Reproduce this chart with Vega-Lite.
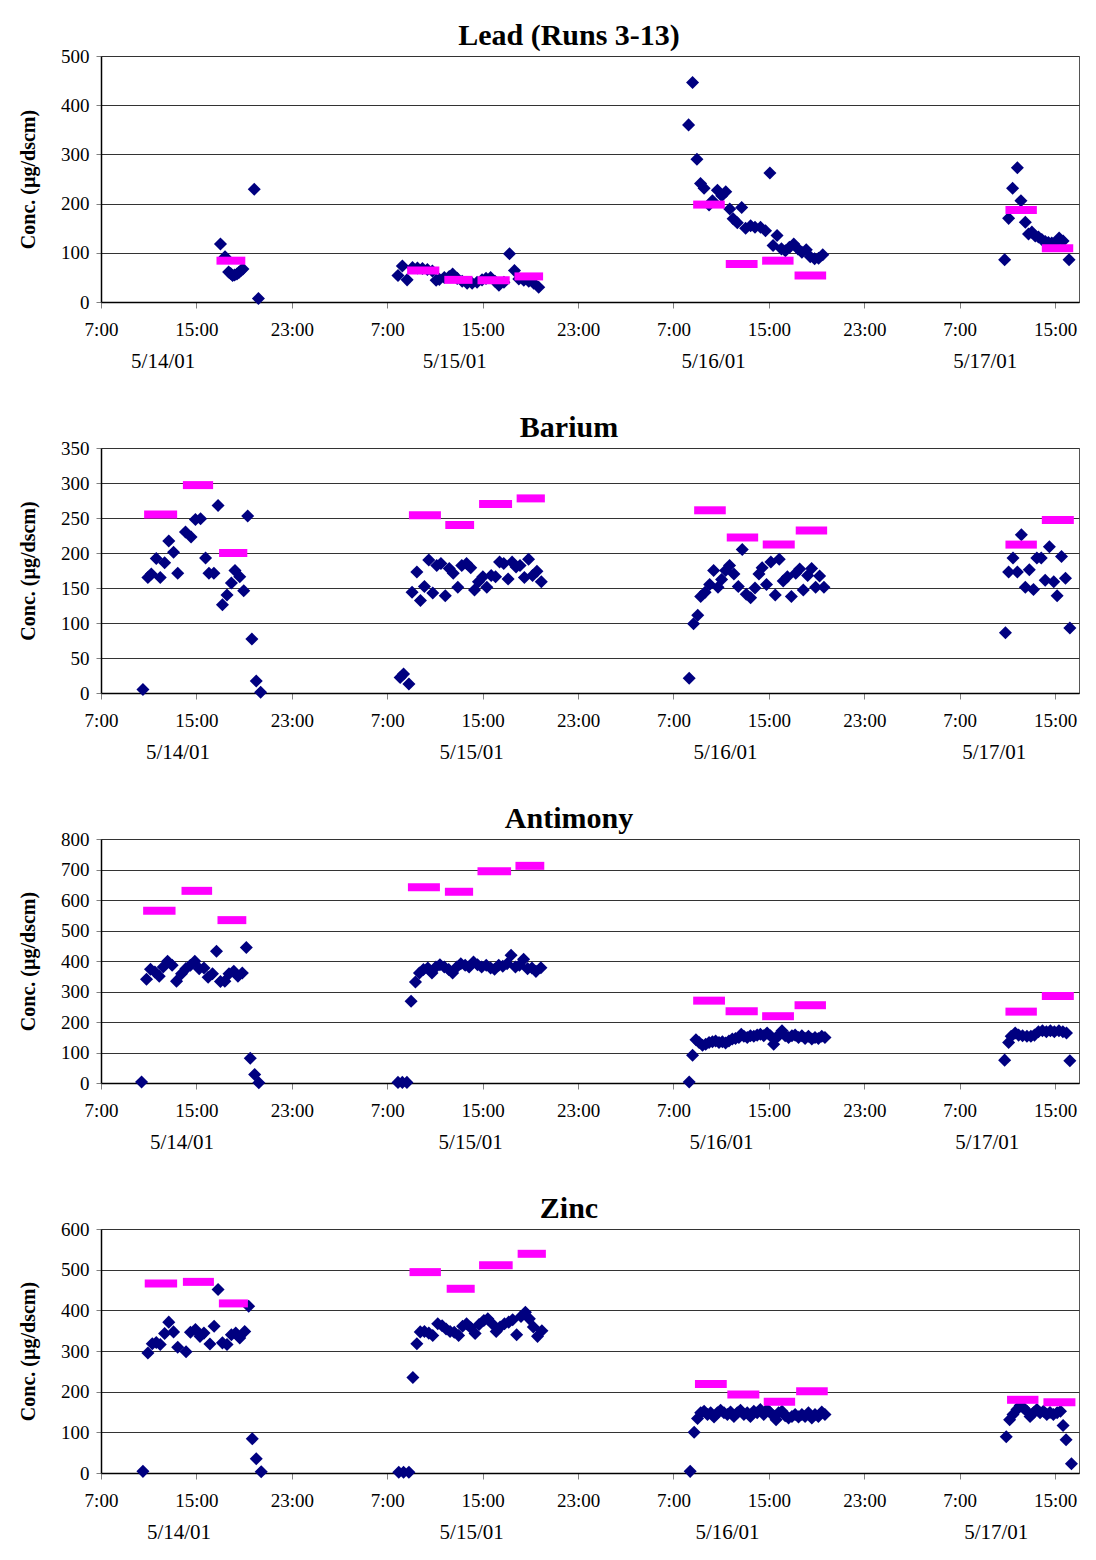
{
  "$schema": "https://vega.github.io/schema/vega-lite/v6.json",
  "background": "white",
  "padding": {"left": 18, "top": 20, "right": 5, "bottom": 5},
  "spacing": 40,
  "config": {
    "font": "Liberation Serif",
    "view": {"stroke": "#555", "strokeWidth": 1},
    "axis": {"labelFont": "Liberation Serif", "titleFont": "Liberation Serif", "labelColor": "black", "titleColor": "black", "domainColor": "black", "domainWidth": 1.5, "tickColor": "#808080", "gridColor": "#333", "gridWidth": 1},
    "title": {"font": "Liberation Serif", "fontSize": 30, "fontWeight": "bold", "color": "black", "anchor": "middle", "dx": -21, "offset": -4}
  },
  "datasets": {
    "pts": [
      {"metal":"Lead","time":"2001-05-14T17:01","conc":118},{"metal":"Lead","time":"2001-05-14T17:24","conc":92},{"metal":"Lead","time":"2001-05-14T17:42","conc":61},{"metal":"Lead","time":"2001-05-14T17:52","conc":58},{"metal":"Lead","time":"2001-05-14T18:02","conc":54},{"metal":"Lead","time":"2001-05-14T18:12","conc":55},{"metal":"Lead","time":"2001-05-14T18:24","conc":57},{"metal":"Lead","time":"2001-05-14T18:34","conc":60},{"metal":"Lead","time":"2001-05-14T18:44","conc":64},{"metal":"Lead","time":"2001-05-14T18:54","conc":67},{"metal":"Lead","time":"2001-05-14T19:51","conc":229},{"metal":"Lead","time":"2001-05-14T20:12","conc":7},
      {"metal":"Lead","time":"2001-05-15T07:54","conc":54},{"metal":"Lead","time":"2001-05-15T08:16","conc":73},{"metal":"Lead","time":"2001-05-15T08:40","conc":45},{"metal":"Lead","time":"2001-05-15T09:07","conc":70},{"metal":"Lead","time":"2001-05-15T09:32","conc":69},{"metal":"Lead","time":"2001-05-15T09:57","conc":68},{"metal":"Lead","time":"2001-05-15T10:22","conc":66},{"metal":"Lead","time":"2001-05-15T10:47","conc":63},{"metal":"Lead","time":"2001-05-15T11:06","conc":44},{"metal":"Lead","time":"2001-05-15T11:22","conc":46},{"metal":"Lead","time":"2001-05-15T11:47","conc":50},{"metal":"Lead","time":"2001-05-15T12:12","conc":52},{"metal":"Lead","time":"2001-05-15T12:29","conc":57},{"metal":"Lead","time":"2001-05-15T12:52","conc":48},{"metal":"Lead","time":"2001-05-15T13:17","conc":42},{"metal":"Lead","time":"2001-05-15T13:42","conc":38},{"metal":"Lead","time":"2001-05-15T14:07","conc":38},{"metal":"Lead","time":"2001-05-15T14:32","conc":40},{"metal":"Lead","time":"2001-05-15T14:57","conc":45},{"metal":"Lead","time":"2001-05-15T15:17","conc":48},{"metal":"Lead","time":"2001-05-15T15:40","conc":50},{"metal":"Lead","time":"2001-05-15T16:02","conc":42},{"metal":"Lead","time":"2001-05-15T16:22","conc":34},{"metal":"Lead","time":"2001-05-15T16:47","conc":40},{"metal":"Lead","time":"2001-05-15T17:15","conc":98},{"metal":"Lead","time":"2001-05-15T17:40","conc":64},{"metal":"Lead","time":"2001-05-15T18:02","conc":47},{"metal":"Lead","time":"2001-05-15T18:27","conc":44},{"metal":"Lead","time":"2001-05-15T18:52","conc":42},{"metal":"Lead","time":"2001-05-15T19:17","conc":38},{"metal":"Lead","time":"2001-05-15T19:42","conc":30},
      {"metal":"Lead","time":"2001-05-16T08:16","conc":360},{"metal":"Lead","time":"2001-05-16T08:36","conc":446},{"metal":"Lead","time":"2001-05-16T08:58","conc":290},{"metal":"Lead","time":"2001-05-16T09:16","conc":241},{"metal":"Lead","time":"2001-05-16T09:34","conc":231},{"metal":"Lead","time":"2001-05-16T09:59","conc":197},{"metal":"Lead","time":"2001-05-16T10:16","conc":206},{"metal":"Lead","time":"2001-05-16T10:41","conc":227},{"metal":"Lead","time":"2001-05-16T11:03","conc":216},{"metal":"Lead","time":"2001-05-16T11:23","conc":224},{"metal":"Lead","time":"2001-05-16T11:43","conc":189},{"metal":"Lead","time":"2001-05-16T12:00","conc":169},{"metal":"Lead","time":"2001-05-16T12:21","conc":161},{"metal":"Lead","time":"2001-05-16T12:43","conc":192},{"metal":"Lead","time":"2001-05-16T13:03","conc":150},{"metal":"Lead","time":"2001-05-16T13:28","conc":155},{"metal":"Lead","time":"2001-05-16T13:50","conc":152},{"metal":"Lead","time":"2001-05-16T14:18","conc":152},{"metal":"Lead","time":"2001-05-16T14:43","conc":145},{"metal":"Lead","time":"2001-05-16T15:05","conc":262},{"metal":"Lead","time":"2001-05-16T15:21","conc":115},{"metal":"Lead","time":"2001-05-16T15:41","conc":135},{"metal":"Lead","time":"2001-05-16T16:03","conc":108},{"metal":"Lead","time":"2001-05-16T16:23","conc":104},{"metal":"Lead","time":"2001-05-16T16:43","conc":111},{"metal":"Lead","time":"2001-05-16T17:05","conc":118},{"metal":"Lead","time":"2001-05-16T17:26","conc":108},{"metal":"Lead","time":"2001-05-16T17:46","conc":101},{"metal":"Lead","time":"2001-05-16T18:08","conc":106},{"metal":"Lead","time":"2001-05-16T18:28","conc":92},{"metal":"Lead","time":"2001-05-16T18:50","conc":88},{"metal":"Lead","time":"2001-05-16T19:10","conc":89},{"metal":"Lead","time":"2001-05-16T19:31","conc":96},
      {"metal":"Lead","time":"2001-05-17T10:46","conc":86},{"metal":"Lead","time":"2001-05-17T11:06","conc":170},{"metal":"Lead","time":"2001-05-17T11:26","conc":231},{"metal":"Lead","time":"2001-05-17T11:50","conc":273},{"metal":"Lead","time":"2001-05-17T12:08","conc":206},{"metal":"Lead","time":"2001-05-17T12:30","conc":162},{"metal":"Lead","time":"2001-05-17T12:46","conc":138},{"metal":"Lead","time":"2001-05-17T13:03","conc":142},{"metal":"Lead","time":"2001-05-17T13:20","conc":134},{"metal":"Lead","time":"2001-05-17T13:36","conc":132},{"metal":"Lead","time":"2001-05-17T13:53","conc":127},{"metal":"Lead","time":"2001-05-17T14:10","conc":123},{"metal":"Lead","time":"2001-05-17T14:26","conc":121},{"metal":"Lead","time":"2001-05-17T14:43","conc":120},{"metal":"Lead","time":"2001-05-17T15:00","conc":120},{"metal":"Lead","time":"2001-05-17T15:20","conc":130},{"metal":"Lead","time":"2001-05-17T15:40","conc":124},{"metal":"Lead","time":"2001-05-17T16:10","conc":86},

      {"metal":"Barium","time":"2001-05-14T10:31","conc":5},{"metal":"Barium","time":"2001-05-14T10:56","conc":165},{"metal":"Barium","time":"2001-05-14T11:13","conc":170},{"metal":"Barium","time":"2001-05-14T11:38","conc":192},{"metal":"Barium","time":"2001-05-14T11:58","conc":165},{"metal":"Barium","time":"2001-05-14T12:20","conc":186},{"metal":"Barium","time":"2001-05-14T12:41","conc":217},{"metal":"Barium","time":"2001-05-14T13:05","conc":201},{"metal":"Barium","time":"2001-05-14T13:26","conc":171},{"metal":"Barium","time":"2001-05-14T14:05","conc":230},{"metal":"Barium","time":"2001-05-14T14:33","conc":223},{"metal":"Barium","time":"2001-05-14T14:55","conc":248},{"metal":"Barium","time":"2001-05-14T15:21","conc":249},{"metal":"Barium","time":"2001-05-14T15:46","conc":193},{"metal":"Barium","time":"2001-05-14T16:03","conc":171},{"metal":"Barium","time":"2001-05-14T16:28","conc":171},{"metal":"Barium","time":"2001-05-14T16:49","conc":268},{"metal":"Barium","time":"2001-05-14T17:11","conc":126},{"metal":"Barium","time":"2001-05-14T17:34","conc":140},{"metal":"Barium","time":"2001-05-14T17:56","conc":157},{"metal":"Barium","time":"2001-05-14T18:14","conc":175},{"metal":"Barium","time":"2001-05-14T18:38","conc":166},{"metal":"Barium","time":"2001-05-14T18:58","conc":146},{"metal":"Barium","time":"2001-05-14T19:18","conc":253},{"metal":"Barium","time":"2001-05-14T19:39","conc":77},{"metal":"Barium","time":"2001-05-14T20:01","conc":17},{"metal":"Barium","time":"2001-05-14T20:23","conc":1},
      {"metal":"Barium","time":"2001-05-15T08:05","conc":22},{"metal":"Barium","time":"2001-05-15T08:22","conc":27},{"metal":"Barium","time":"2001-05-15T08:49","conc":13},{"metal":"Barium","time":"2001-05-15T09:05","conc":144},{"metal":"Barium","time":"2001-05-15T09:29","conc":173},{"metal":"Barium","time":"2001-05-15T09:47","conc":132},{"metal":"Barium","time":"2001-05-15T10:07","conc":152},{"metal":"Barium","time":"2001-05-15T10:29","conc":190},{"metal":"Barium","time":"2001-05-15T10:49","conc":143},{"metal":"Barium","time":"2001-05-15T11:09","conc":182},{"metal":"Barium","time":"2001-05-15T11:30","conc":185},{"metal":"Barium","time":"2001-05-15T11:52","conc":139},{"metal":"Barium","time":"2001-05-15T12:12","conc":178},{"metal":"Barium","time":"2001-05-15T12:32","conc":171},{"metal":"Barium","time":"2001-05-15T12:55","conc":151},{"metal":"Barium","time":"2001-05-15T13:15","conc":182},{"metal":"Barium","time":"2001-05-15T13:39","conc":185},{"metal":"Barium","time":"2001-05-15T14:00","conc":179},{"metal":"Barium","time":"2001-05-15T14:19","conc":147},{"metal":"Barium","time":"2001-05-15T14:39","conc":159},{"metal":"Barium","time":"2001-05-15T15:01","conc":166},{"metal":"Barium","time":"2001-05-15T15:21","conc":151},{"metal":"Barium","time":"2001-05-15T15:43","conc":168},{"metal":"Barium","time":"2001-05-15T16:05","conc":166},{"metal":"Barium","time":"2001-05-15T16:25","conc":187},{"metal":"Barium","time":"2001-05-15T16:46","conc":185},{"metal":"Barium","time":"2001-05-15T17:08","conc":163},{"metal":"Barium","time":"2001-05-15T17:28","conc":187},{"metal":"Barium","time":"2001-05-15T17:48","conc":180},{"metal":"Barium","time":"2001-05-15T18:08","conc":182},{"metal":"Barium","time":"2001-05-15T18:30","conc":165},{"metal":"Barium","time":"2001-05-15T18:51","conc":191},{"metal":"Barium","time":"2001-05-15T19:11","conc":168},{"metal":"Barium","time":"2001-05-15T19:33","conc":174},{"metal":"Barium","time":"2001-05-15T19:55","conc":159},
      {"metal":"Barium","time":"2001-05-16T08:19","conc":21},{"metal":"Barium","time":"2001-05-16T08:41","conc":99},{"metal":"Barium","time":"2001-05-16T09:02","conc":111},{"metal":"Barium","time":"2001-05-16T09:17","conc":138},{"metal":"Barium","time":"2001-05-16T09:39","conc":144},{"metal":"Barium","time":"2001-05-16T10:02","conc":155},{"metal":"Barium","time":"2001-05-16T10:22","conc":175},{"metal":"Barium","time":"2001-05-16T10:44","conc":151},{"metal":"Barium","time":"2001-05-16T11:02","conc":162},{"metal":"Barium","time":"2001-05-16T11:22","conc":175},{"metal":"Barium","time":"2001-05-16T11:42","conc":182},{"metal":"Barium","time":"2001-05-16T12:04","conc":170},{"metal":"Barium","time":"2001-05-16T12:26","conc":152},{"metal":"Barium","time":"2001-05-16T12:46","conc":205},{"metal":"Barium","time":"2001-05-16T13:06","conc":141},{"metal":"Barium","time":"2001-05-16T13:28","conc":136},{"metal":"Barium","time":"2001-05-16T13:50","conc":150},{"metal":"Barium","time":"2001-05-16T14:10","conc":170},{"metal":"Barium","time":"2001-05-16T14:26","conc":179},{"metal":"Barium","time":"2001-05-16T14:48","conc":155},{"metal":"Barium","time":"2001-05-16T15:10","conc":187},{"metal":"Barium","time":"2001-05-16T15:32","conc":140},{"metal":"Barium","time":"2001-05-16T15:52","conc":191},{"metal":"Barium","time":"2001-05-16T16:12","conc":160},{"metal":"Barium","time":"2001-05-16T16:33","conc":166},{"metal":"Barium","time":"2001-05-16T16:53","conc":138},{"metal":"Barium","time":"2001-05-16T17:15","conc":171},{"metal":"Barium","time":"2001-05-16T17:35","conc":177},{"metal":"Barium","time":"2001-05-16T17:53","conc":147},{"metal":"Barium","time":"2001-05-16T18:15","conc":168},{"metal":"Barium","time":"2001-05-16T18:35","conc":178},{"metal":"Barium","time":"2001-05-16T18:55","conc":151},{"metal":"Barium","time":"2001-05-16T19:15","conc":167},{"metal":"Barium","time":"2001-05-16T19:37","conc":151},
      {"metal":"Barium","time":"2001-05-17T10:50","conc":86},{"metal":"Barium","time":"2001-05-17T11:06","conc":173},{"metal":"Barium","time":"2001-05-17T11:28","conc":193},{"metal":"Barium","time":"2001-05-17T11:50","conc":173},{"metal":"Barium","time":"2001-05-17T12:10","conc":226},{"metal":"Barium","time":"2001-05-17T12:30","conc":151},{"metal":"Barium","time":"2001-05-17T12:50","conc":176},{"metal":"Barium","time":"2001-05-17T13:11","conc":148},{"metal":"Barium","time":"2001-05-17T13:28","conc":193},{"metal":"Barium","time":"2001-05-17T13:50","conc":193},{"metal":"Barium","time":"2001-05-17T14:10","conc":161},{"metal":"Barium","time":"2001-05-17T14:31","conc":209},{"metal":"Barium","time":"2001-05-17T14:53","conc":159},{"metal":"Barium","time":"2001-05-17T15:10","conc":139},{"metal":"Barium","time":"2001-05-17T15:32","conc":195},{"metal":"Barium","time":"2001-05-17T15:52","conc":164},{"metal":"Barium","time":"2001-05-17T16:14","conc":93},

      {"metal":"Antimony","time":"2001-05-14T10:24","conc":3},{"metal":"Antimony","time":"2001-05-14T10:49","conc":340},{"metal":"Antimony","time":"2001-05-14T11:09","conc":373},{"metal":"Antimony","time":"2001-05-14T11:31","conc":364},{"metal":"Antimony","time":"2001-05-14T11:53","conc":350},{"metal":"Antimony","time":"2001-05-14T12:13","conc":380},{"metal":"Antimony","time":"2001-05-14T12:35","conc":399},{"metal":"Antimony","time":"2001-05-14T12:58","conc":386},{"metal":"Antimony","time":"2001-05-14T13:20","conc":334},{"metal":"Antimony","time":"2001-05-14T13:45","conc":358},{"metal":"Antimony","time":"2001-05-14T14:07","conc":375},{"metal":"Antimony","time":"2001-05-14T14:30","conc":386},{"metal":"Antimony","time":"2001-05-14T14:52","conc":399},{"metal":"Antimony","time":"2001-05-14T15:14","conc":375},{"metal":"Antimony","time":"2001-05-14T15:38","conc":377},{"metal":"Antimony","time":"2001-05-14T15:59","conc":347},{"metal":"Antimony","time":"2001-05-14T16:21","conc":358},{"metal":"Antimony","time":"2001-05-14T16:41","conc":432},{"metal":"Antimony","time":"2001-05-14T17:01","conc":333},{"metal":"Antimony","time":"2001-05-14T17:23","conc":334},{"metal":"Antimony","time":"2001-05-14T17:44","conc":358},{"metal":"Antimony","time":"2001-05-14T18:08","conc":366},{"metal":"Antimony","time":"2001-05-14T18:29","conc":350},{"metal":"Antimony","time":"2001-05-14T18:51","conc":361},{"metal":"Antimony","time":"2001-05-14T19:11","conc":444},{"metal":"Antimony","time":"2001-05-14T19:31","conc":81},{"metal":"Antimony","time":"2001-05-14T19:53","conc":28},{"metal":"Antimony","time":"2001-05-14T20:14","conc":1},
      {"metal":"Antimony","time":"2001-05-15T07:54","conc":2},{"metal":"Antimony","time":"2001-05-15T08:16","conc":2},{"metal":"Antimony","time":"2001-05-15T08:39","conc":2},{"metal":"Antimony","time":"2001-05-15T09:00","conc":268},{"metal":"Antimony","time":"2001-05-15T09:22","conc":331},{"metal":"Antimony","time":"2001-05-15T09:42","conc":361},{"metal":"Antimony","time":"2001-05-15T10:02","conc":372},{"metal":"Antimony","time":"2001-05-15T10:24","conc":377},{"metal":"Antimony","time":"2001-05-15T10:45","conc":361},{"metal":"Antimony","time":"2001-05-15T11:05","conc":380},{"metal":"Antimony","time":"2001-05-15T11:25","conc":388},{"metal":"Antimony","time":"2001-05-15T11:47","conc":380},{"metal":"Antimony","time":"2001-05-15T12:09","conc":372},{"metal":"Antimony","time":"2001-05-15T12:29","conc":361},{"metal":"Antimony","time":"2001-05-15T12:50","conc":380},{"metal":"Antimony","time":"2001-05-15T13:10","conc":391},{"metal":"Antimony","time":"2001-05-15T13:32","conc":386},{"metal":"Antimony","time":"2001-05-15T13:52","conc":380},{"metal":"Antimony","time":"2001-05-15T14:14","conc":397},{"metal":"Antimony","time":"2001-05-15T14:34","conc":388},{"metal":"Antimony","time":"2001-05-15T14:55","conc":380},{"metal":"Antimony","time":"2001-05-15T15:18","conc":386},{"metal":"Antimony","time":"2001-05-15T15:40","conc":377},{"metal":"Antimony","time":"2001-05-15T16:00","conc":373},{"metal":"Antimony","time":"2001-05-15T16:21","conc":386},{"metal":"Antimony","time":"2001-05-15T16:41","conc":383},{"metal":"Antimony","time":"2001-05-15T17:03","conc":391},{"metal":"Antimony","time":"2001-05-15T17:23","conc":419},{"metal":"Antimony","time":"2001-05-15T17:45","conc":380},{"metal":"Antimony","time":"2001-05-15T18:05","conc":386},{"metal":"Antimony","time":"2001-05-15T18:26","conc":406},{"metal":"Antimony","time":"2001-05-15T18:46","conc":375},{"metal":"Antimony","time":"2001-05-15T19:08","conc":377},{"metal":"Antimony","time":"2001-05-15T19:28","conc":366},{"metal":"Antimony","time":"2001-05-15T19:53","conc":378},
      {"metal":"Antimony","time":"2001-05-16T08:19","conc":3},{"metal":"Antimony","time":"2001-05-16T08:36","conc":91},{"metal":"Antimony","time":"2001-05-16T08:53","conc":142},{"metal":"Antimony","time":"2001-05-16T09:09","conc":133},{"metal":"Antimony","time":"2001-05-16T09:26","conc":124},{"metal":"Antimony","time":"2001-05-16T09:42","conc":127},{"metal":"Antimony","time":"2001-05-16T09:59","conc":133},{"metal":"Antimony","time":"2001-05-16T10:16","conc":135},{"metal":"Antimony","time":"2001-05-16T10:32","conc":138},{"metal":"Antimony","time":"2001-05-16T10:49","conc":133},{"metal":"Antimony","time":"2001-05-16T11:06","conc":135},{"metal":"Antimony","time":"2001-05-16T11:22","conc":131},{"metal":"Antimony","time":"2001-05-16T11:39","conc":138},{"metal":"Antimony","time":"2001-05-16T11:56","conc":144},{"metal":"Antimony","time":"2001-05-16T12:12","conc":146},{"metal":"Antimony","time":"2001-05-16T12:29","conc":149},{"metal":"Antimony","time":"2001-05-16T12:41","conc":160},{"metal":"Antimony","time":"2001-05-16T12:54","conc":153},{"metal":"Antimony","time":"2001-05-16T13:11","conc":149},{"metal":"Antimony","time":"2001-05-16T13:27","conc":155},{"metal":"Antimony","time":"2001-05-16T13:44","conc":153},{"metal":"Antimony","time":"2001-05-16T14:01","conc":157},{"metal":"Antimony","time":"2001-05-16T14:17","conc":160},{"metal":"Antimony","time":"2001-05-16T14:34","conc":155},{"metal":"Antimony","time":"2001-05-16T14:51","conc":164},{"metal":"Antimony","time":"2001-05-16T15:07","conc":155},{"metal":"Antimony","time":"2001-05-16T15:24","conc":127},{"metal":"Antimony","time":"2001-05-16T15:36","conc":149},{"metal":"Antimony","time":"2001-05-16T15:49","conc":155},{"metal":"Antimony","time":"2001-05-16T16:06","conc":171},{"metal":"Antimony","time":"2001-05-16T16:22","conc":155},{"metal":"Antimony","time":"2001-05-16T16:39","conc":149},{"metal":"Antimony","time":"2001-05-16T16:56","conc":155},{"metal":"Antimony","time":"2001-05-16T17:12","conc":157},{"metal":"Antimony","time":"2001-05-16T17:29","conc":149},{"metal":"Antimony","time":"2001-05-16T17:46","conc":155},{"metal":"Antimony","time":"2001-05-16T18:02","conc":146},{"metal":"Antimony","time":"2001-05-16T18:19","conc":153},{"metal":"Antimony","time":"2001-05-16T18:36","conc":144},{"metal":"Antimony","time":"2001-05-16T18:52","conc":149},{"metal":"Antimony","time":"2001-05-16T19:09","conc":146},{"metal":"Antimony","time":"2001-05-16T19:26","conc":153},{"metal":"Antimony","time":"2001-05-16T19:42","conc":149},
      {"metal":"Antimony","time":"2001-05-17T10:46","conc":75},{"metal":"Antimony","time":"2001-05-17T11:06","conc":133},{"metal":"Antimony","time":"2001-05-17T11:19","conc":153},{"metal":"Antimony","time":"2001-05-17T11:39","conc":164},{"metal":"Antimony","time":"2001-05-17T11:56","conc":157},{"metal":"Antimony","time":"2001-05-17T12:16","conc":155},{"metal":"Antimony","time":"2001-05-17T12:38","conc":153},{"metal":"Antimony","time":"2001-05-17T12:58","conc":153},{"metal":"Antimony","time":"2001-05-17T13:16","conc":157},{"metal":"Antimony","time":"2001-05-17T13:36","conc":168},{"metal":"Antimony","time":"2001-05-17T13:56","conc":171},{"metal":"Antimony","time":"2001-05-17T14:16","conc":168},{"metal":"Antimony","time":"2001-05-17T14:36","conc":171},{"metal":"Antimony","time":"2001-05-17T14:56","conc":168},{"metal":"Antimony","time":"2001-05-17T15:19","conc":171},{"metal":"Antimony","time":"2001-05-17T15:39","conc":168},{"metal":"Antimony","time":"2001-05-17T15:57","conc":164},{"metal":"Antimony","time":"2001-05-17T16:14","conc":73},

      {"metal":"Zinc","time":"2001-05-14T10:31","conc":4},{"metal":"Zinc","time":"2001-05-14T10:56","conc":295},{"metal":"Zinc","time":"2001-05-14T11:18","conc":318},{"metal":"Zinc","time":"2001-05-14T11:38","conc":321},{"metal":"Zinc","time":"2001-05-14T11:58","conc":316},{"metal":"Zinc","time":"2001-05-14T12:20","conc":343},{"metal":"Zinc","time":"2001-05-14T12:41","conc":371},{"metal":"Zinc","time":"2001-05-14T13:05","conc":347},{"metal":"Zinc","time":"2001-05-14T13:26","conc":309},{"metal":"Zinc","time":"2001-05-14T14:08","conc":298},{"metal":"Zinc","time":"2001-05-14T14:30","conc":346},{"metal":"Zinc","time":"2001-05-14T14:55","conc":353},{"metal":"Zinc","time":"2001-05-14T15:18","conc":336},{"metal":"Zinc","time":"2001-05-14T15:38","conc":344},{"metal":"Zinc","time":"2001-05-14T16:08","conc":317},{"metal":"Zinc","time":"2001-05-14T16:29","conc":361},{"metal":"Zinc","time":"2001-05-14T16:49","conc":451},{"metal":"Zinc","time":"2001-05-14T17:11","conc":320},{"metal":"Zinc","time":"2001-05-14T17:34","conc":316},{"metal":"Zinc","time":"2001-05-14T17:56","conc":340},{"metal":"Zinc","time":"2001-05-14T18:18","conc":344},{"metal":"Zinc","time":"2001-05-14T18:38","conc":332},{"metal":"Zinc","time":"2001-05-14T19:03","conc":348},{"metal":"Zinc","time":"2001-05-14T19:23","conc":410},{"metal":"Zinc","time":"2001-05-14T19:41","conc":84},{"metal":"Zinc","time":"2001-05-14T20:01","conc":35},{"metal":"Zinc","time":"2001-05-14T20:26","conc":3},
      {"metal":"Zinc","time":"2001-05-15T07:58","conc":2},{"metal":"Zinc","time":"2001-05-15T08:22","conc":2},{"metal":"Zinc","time":"2001-05-15T08:49","conc":2},{"metal":"Zinc","time":"2001-05-15T09:09","conc":235},{"metal":"Zinc","time":"2001-05-15T09:29","conc":318},{"metal":"Zinc","time":"2001-05-15T09:46","conc":347},{"metal":"Zinc","time":"2001-05-15T10:07","conc":348},{"metal":"Zinc","time":"2001-05-15T10:29","conc":344},{"metal":"Zinc","time":"2001-05-15T10:49","conc":338},{"metal":"Zinc","time":"2001-05-15T11:14","conc":367},{"metal":"Zinc","time":"2001-05-15T11:36","conc":362},{"metal":"Zinc","time":"2001-05-15T11:56","conc":354},{"metal":"Zinc","time":"2001-05-15T12:16","conc":348},{"metal":"Zinc","time":"2001-05-15T12:37","conc":346},{"metal":"Zinc","time":"2001-05-15T12:59","conc":338},{"metal":"Zinc","time":"2001-05-15T13:19","conc":361},{"metal":"Zinc","time":"2001-05-15T13:39","conc":367},{"metal":"Zinc","time":"2001-05-15T14:00","conc":357},{"metal":"Zinc","time":"2001-05-15T14:22","conc":343},{"metal":"Zinc","time":"2001-05-15T14:42","conc":365},{"metal":"Zinc","time":"2001-05-15T15:06","conc":375},{"metal":"Zinc","time":"2001-05-15T15:26","conc":379},{"metal":"Zinc","time":"2001-05-15T15:48","conc":367},{"metal":"Zinc","time":"2001-05-15T16:08","conc":348},{"metal":"Zinc","time":"2001-05-15T16:28","conc":359},{"metal":"Zinc","time":"2001-05-15T16:50","conc":367},{"metal":"Zinc","time":"2001-05-15T17:11","conc":371},{"metal":"Zinc","time":"2001-05-15T17:31","conc":377},{"metal":"Zinc","time":"2001-05-15T17:51","conc":340},{"metal":"Zinc","time":"2001-05-15T18:13","conc":385},{"metal":"Zinc","time":"2001-05-15T18:35","conc":395},{"metal":"Zinc","time":"2001-05-15T18:55","conc":379},{"metal":"Zinc","time":"2001-05-15T19:15","conc":359},{"metal":"Zinc","time":"2001-05-15T19:36","conc":336},{"metal":"Zinc","time":"2001-05-15T19:58","conc":350},
      {"metal":"Zinc","time":"2001-05-16T08:24","conc":4},{"metal":"Zinc","time":"2001-05-16T08:44","conc":100},{"metal":"Zinc","time":"2001-05-16T09:01","conc":134},{"metal":"Zinc","time":"2001-05-16T09:17","conc":148},{"metal":"Zinc","time":"2001-05-16T09:34","conc":152},{"metal":"Zinc","time":"2001-05-16T09:51","conc":144},{"metal":"Zinc","time":"2001-05-16T10:07","conc":148},{"metal":"Zinc","time":"2001-05-16T10:24","conc":138},{"metal":"Zinc","time":"2001-05-16T10:41","conc":148},{"metal":"Zinc","time":"2001-05-16T10:57","conc":154},{"metal":"Zinc","time":"2001-05-16T11:14","conc":148},{"metal":"Zinc","time":"2001-05-16T11:31","conc":144},{"metal":"Zinc","time":"2001-05-16T11:47","conc":150},{"metal":"Zinc","time":"2001-05-16T12:04","conc":139},{"metal":"Zinc","time":"2001-05-16T12:21","conc":148},{"metal":"Zinc","time":"2001-05-16T12:37","conc":154},{"metal":"Zinc","time":"2001-05-16T12:54","conc":144},{"metal":"Zinc","time":"2001-05-16T13:11","conc":148},{"metal":"Zinc","time":"2001-05-16T13:27","conc":139},{"metal":"Zinc","time":"2001-05-16T13:44","conc":152},{"metal":"Zinc","time":"2001-05-16T14:01","conc":148},{"metal":"Zinc","time":"2001-05-16T14:17","conc":156},{"metal":"Zinc","time":"2001-05-16T14:34","conc":144},{"metal":"Zinc","time":"2001-05-16T14:51","conc":156},{"metal":"Zinc","time":"2001-05-16T15:07","conc":148},{"metal":"Zinc","time":"2001-05-16T15:24","conc":141},{"metal":"Zinc","time":"2001-05-16T15:36","conc":131},{"metal":"Zinc","time":"2001-05-16T15:49","conc":148},{"metal":"Zinc","time":"2001-05-16T16:06","conc":152},{"metal":"Zinc","time":"2001-05-16T16:22","conc":141},{"metal":"Zinc","time":"2001-05-16T16:39","conc":135},{"metal":"Zinc","time":"2001-05-16T16:56","conc":139},{"metal":"Zinc","time":"2001-05-16T17:12","conc":144},{"metal":"Zinc","time":"2001-05-16T17:29","conc":138},{"metal":"Zinc","time":"2001-05-16T17:46","conc":144},{"metal":"Zinc","time":"2001-05-16T18:02","conc":139},{"metal":"Zinc","time":"2001-05-16T18:19","conc":148},{"metal":"Zinc","time":"2001-05-16T18:36","conc":135},{"metal":"Zinc","time":"2001-05-16T18:52","conc":144},{"metal":"Zinc","time":"2001-05-16T19:09","conc":139},{"metal":"Zinc","time":"2001-05-16T19:26","conc":150},{"metal":"Zinc","time":"2001-05-16T19:42","conc":144},
      {"metal":"Zinc","time":"2001-05-17T10:54","conc":89},{"metal":"Zinc","time":"2001-05-17T11:11","conc":131},{"metal":"Zinc","time":"2001-05-17T11:28","conc":144},{"metal":"Zinc","time":"2001-05-17T11:48","conc":156},{"metal":"Zinc","time":"2001-05-17T12:04","conc":166},{"metal":"Zinc","time":"2001-05-17T12:21","conc":160},{"metal":"Zinc","time":"2001-05-17T12:38","conc":152},{"metal":"Zinc","time":"2001-05-17T12:54","conc":139},{"metal":"Zinc","time":"2001-05-17T13:11","conc":148},{"metal":"Zinc","time":"2001-05-17T13:28","conc":156},{"metal":"Zinc","time":"2001-05-17T13:44","conc":148},{"metal":"Zinc","time":"2001-05-17T14:01","conc":152},{"metal":"Zinc","time":"2001-05-17T14:18","conc":144},{"metal":"Zinc","time":"2001-05-17T14:34","conc":149},{"metal":"Zinc","time":"2001-05-17T14:51","conc":144},{"metal":"Zinc","time":"2001-05-17T15:10","conc":148},{"metal":"Zinc","time":"2001-05-17T15:27","conc":152},{"metal":"Zinc","time":"2001-05-17T15:40","conc":117},{"metal":"Zinc","time":"2001-05-17T15:55","conc":82},{"metal":"Zinc","time":"2001-05-17T16:22","conc":23}
    ],
    "avg": [
      {"metal":"Lead","start":"2001-05-14T16:41","end":"2001-05-14T19:06","conc":84},
      {"metal":"Lead","start":"2001-05-15T08:40","end":"2001-05-15T11:22","conc":64},
      {"metal":"Lead","start":"2001-05-15T11:47","end":"2001-05-15T14:09","conc":45},
      {"metal":"Lead","start":"2001-05-15T14:34","end":"2001-05-15T17:16","conc":44},
      {"metal":"Lead","start":"2001-05-15T17:40","end":"2001-05-15T20:04","conc":52},
      {"metal":"Lead","start":"2001-05-16T08:39","end":"2001-05-16T11:18","conc":198},
      {"metal":"Lead","start":"2001-05-16T11:23","end":"2001-05-16T14:03","conc":77},
      {"metal":"Lead","start":"2001-05-16T14:26","end":"2001-05-16T17:04","conc":84},
      {"metal":"Lead","start":"2001-05-16T17:09","end":"2001-05-16T19:48","conc":54},
      {"metal":"Lead","start":"2001-05-17T10:50","end":"2001-05-17T13:28","conc":187},
      {"metal":"Lead","start":"2001-05-17T13:53","end":"2001-05-17T16:31","conc":109},
      {"metal":"Barium","start":"2001-05-14T10:37","end":"2001-05-14T13:23","conc":255},
      {"metal":"Barium","start":"2001-05-14T13:52","end":"2001-05-14T16:24","conc":297},
      {"metal":"Barium","start":"2001-05-14T16:54","end":"2001-05-14T19:16","conc":200},
      {"metal":"Barium","start":"2001-05-15T08:49","end":"2001-05-15T11:30","conc":254},
      {"metal":"Barium","start":"2001-05-15T11:52","end":"2001-05-15T14:17","conc":240},
      {"metal":"Barium","start":"2001-05-15T14:42","end":"2001-05-15T17:28","conc":270},
      {"metal":"Barium","start":"2001-05-15T17:51","end":"2001-05-15T20:13","conc":278},
      {"metal":"Barium","start":"2001-05-16T08:44","end":"2001-05-16T11:23","conc":261},
      {"metal":"Barium","start":"2001-05-16T11:28","end":"2001-05-16T14:06","conc":222},
      {"metal":"Barium","start":"2001-05-16T14:29","end":"2001-05-16T17:10","conc":212},
      {"metal":"Barium","start":"2001-05-16T17:15","end":"2001-05-16T19:53","conc":232},
      {"metal":"Barium","start":"2001-05-17T10:50","end":"2001-05-17T13:28","conc":212},
      {"metal":"Barium","start":"2001-05-17T13:53","end":"2001-05-17T16:34","conc":247},
      {"metal":"Antimony","start":"2001-05-14T10:32","end":"2001-05-14T13:15","conc":565},
      {"metal":"Antimony","start":"2001-05-14T13:45","end":"2001-05-14T16:19","conc":630},
      {"metal":"Antimony","start":"2001-05-14T16:46","end":"2001-05-14T19:11","conc":534},
      {"metal":"Antimony","start":"2001-05-15T08:44","end":"2001-05-15T11:25","conc":642},
      {"metal":"Antimony","start":"2001-05-15T11:50","end":"2001-05-15T14:12","conc":627},
      {"metal":"Antimony","start":"2001-05-15T14:34","end":"2001-05-15T17:23","conc":694},
      {"metal":"Antimony","start":"2001-05-15T17:45","end":"2001-05-15T20:10","conc":712},
      {"metal":"Antimony","start":"2001-05-16T08:39","end":"2001-05-16T11:19","conc":270},
      {"metal":"Antimony","start":"2001-05-16T11:22","end":"2001-05-16T14:04","conc":235},
      {"metal":"Antimony","start":"2001-05-16T14:26","end":"2001-05-16T17:06","conc":219},
      {"metal":"Antimony","start":"2001-05-16T17:09","end":"2001-05-16T19:47","conc":255},
      {"metal":"Antimony","start":"2001-05-17T10:50","end":"2001-05-17T13:28","conc":234},
      {"metal":"Antimony","start":"2001-05-17T13:53","end":"2001-05-17T16:34","conc":285},
      {"metal":"Zinc","start":"2001-05-14T10:40","end":"2001-05-14T13:23","conc":466},
      {"metal":"Zinc","start":"2001-05-14T13:52","end":"2001-05-14T16:28","conc":470},
      {"metal":"Zinc","start":"2001-05-14T16:53","end":"2001-05-14T19:19","conc":417},
      {"metal":"Zinc","start":"2001-05-15T08:52","end":"2001-05-15T11:30","conc":494},
      {"metal":"Zinc","start":"2001-05-15T11:59","end":"2001-05-15T14:20","conc":453},
      {"metal":"Zinc","start":"2001-05-15T14:42","end":"2001-05-15T17:31","conc":511},
      {"metal":"Zinc","start":"2001-05-15T17:56","end":"2001-05-15T20:18","conc":539},
      {"metal":"Zinc","start":"2001-05-16T08:48","end":"2001-05-16T11:28","conc":219},
      {"metal":"Zinc","start":"2001-05-16T11:31","end":"2001-05-16T14:12","conc":193},
      {"metal":"Zinc","start":"2001-05-16T14:34","end":"2001-05-16T17:12","conc":175},
      {"metal":"Zinc","start":"2001-05-16T17:17","end":"2001-05-16T19:56","conc":201},
      {"metal":"Zinc","start":"2001-05-17T10:58","end":"2001-05-17T13:36","conc":180},
      {"metal":"Zinc","start":"2001-05-17T14:01","end":"2001-05-17T16:42","conc":174}
    ]
  },
  "vconcat": [
    {
      "width": 978, "height": 246,
      "title": {"text": "Lead (Runs 3-13)"},
      "resolve": {"axis": {"x": "independent"}},
      "layer": [
        {
          "data": {"name": "pts"},
          "transform": [{"filter": "datum.metal === 'Lead'"}],
          "mark": {"type": "point", "shape": "diamond", "filled": true, "size": 170, "color": "#000080", "opacity": 1},
          "encoding": {
            "x": {"field": "time", "type": "temporal", "scale": {"domain": [{"year":2001,"month":5,"date":14,"hours":7},{"year":2001,"month":5,"date":17,"hours":17}]},
              "axis": {"title": null, "grid": false, "values": [{"year":2001,"month":5,"date":14,"hours":7},{"year":2001,"month":5,"date":14,"hours":15},{"year":2001,"month":5,"date":14,"hours":23},{"year":2001,"month":5,"date":15,"hours":7},{"year":2001,"month":5,"date":15,"hours":15},{"year":2001,"month":5,"date":15,"hours":23},{"year":2001,"month":5,"date":16,"hours":7},{"year":2001,"month":5,"date":16,"hours":15},{"year":2001,"month":5,"date":16,"hours":23},{"year":2001,"month":5,"date":17,"hours":7},{"year":2001,"month":5,"date":17,"hours":15}], "format": "%-H:%M", "formatType": "time", "tickSize": 6, "labelPadding": 12, "labelFontSize": 19, "labelFlush": false, "labelOverlap": false}},
            "y": {"field": "conc", "type": "quantitative", "scale": {"domain": [0, 500], "nice": false},
              "axis": {"values": [0,100,200,300,400,500], "title": "Conc. (µg/dscm)", "titleFontSize": 20, "titleFontWeight": "bold", "titlePadding": 22, "tickSize": 5, "labelPadding": 7, "labelFontSize": 19, "grid": true}}
          }
        },
        {
          "data": {"name": "avg"},
          "transform": [{"filter": "datum.metal === 'Lead'"}],
          "mark": {"type": "rule", "color": "#FF00FF", "strokeWidth": 8, "strokeCap": "butt"},
          "encoding": {
            "x": {"field": "start", "type": "temporal", "scale": {"domain": [{"year":2001,"month":5,"date":14,"hours":7},{"year":2001,"month":5,"date":17,"hours":17}]},
              "axis": {"orient": "bottom", "title": null, "grid": false, "ticks": false, "domain": false, "tickSize": 0, "offset": 48, "labelPadding": 0, "labelFontSize": 21, "labelFlush": false, "labelOverlap": false, "values": [{"year":2001,"month":5,"date":14,"hours":12,"minutes":10},{"year":2001,"month":5,"date":15,"hours":12,"minutes":37},{"year":2001,"month":5,"date":16,"hours":10,"minutes":19},{"year":2001,"month":5,"date":17,"hours":9,"minutes":6}], "labelExpr": "timeFormat(datum.value, '%-m/%-d/%y')"}},
            "x2": {"field": "end"},
            "y": {"field": "conc", "type": "quantitative", "scale": {"domain": [0, 500], "nice": false},
              "axis": {"values": [0,100,200,300,400,500], "title": "Conc. (µg/dscm)", "titleFontSize": 20, "titleFontWeight": "bold", "titlePadding": 22, "tickSize": 5, "labelPadding": 7, "labelFontSize": 19, "grid": true}}
          }
        }
      ]
    },
    {
      "width": 978, "height": 245,
      "title": {"text": "Barium"},
      "resolve": {"axis": {"x": "independent"}},
      "layer": [
        {
          "data": {"name": "pts"},
          "transform": [{"filter": "datum.metal === 'Barium'"}],
          "mark": {"type": "point", "shape": "diamond", "filled": true, "size": 170, "color": "#000080", "opacity": 1},
          "encoding": {
            "x": {"field": "time", "type": "temporal", "scale": {"domain": [{"year":2001,"month":5,"date":14,"hours":7},{"year":2001,"month":5,"date":17,"hours":17}]},
              "axis": {"title": null, "grid": false, "values": [{"year":2001,"month":5,"date":14,"hours":7},{"year":2001,"month":5,"date":14,"hours":15},{"year":2001,"month":5,"date":14,"hours":23},{"year":2001,"month":5,"date":15,"hours":7},{"year":2001,"month":5,"date":15,"hours":15},{"year":2001,"month":5,"date":15,"hours":23},{"year":2001,"month":5,"date":16,"hours":7},{"year":2001,"month":5,"date":16,"hours":15},{"year":2001,"month":5,"date":16,"hours":23},{"year":2001,"month":5,"date":17,"hours":7},{"year":2001,"month":5,"date":17,"hours":15}], "format": "%-H:%M", "formatType": "time", "tickSize": 6, "labelPadding": 12, "labelFontSize": 19, "labelFlush": false, "labelOverlap": false}},
            "y": {"field": "conc", "type": "quantitative", "scale": {"domain": [0, 350], "nice": false},
              "axis": {"values": [0,50,100,150,200,250,300,350], "title": "Conc. (µg/dscm)", "titleFontSize": 20, "titleFontWeight": "bold", "titlePadding": 22, "tickSize": 5, "labelPadding": 7, "labelFontSize": 19, "grid": true}}
          }
        },
        {
          "data": {"name": "avg"},
          "transform": [{"filter": "datum.metal === 'Barium'"}],
          "mark": {"type": "rule", "color": "#FF00FF", "strokeWidth": 8, "strokeCap": "butt"},
          "encoding": {
            "x": {"field": "start", "type": "temporal", "scale": {"domain": [{"year":2001,"month":5,"date":14,"hours":7},{"year":2001,"month":5,"date":17,"hours":17}]},
              "axis": {"orient": "bottom", "title": null, "grid": false, "ticks": false, "domain": false, "tickSize": 0, "offset": 48, "labelPadding": 0, "labelFontSize": 21, "labelFlush": false, "labelOverlap": false, "values": [{"year":2001,"month":5,"date":14,"hours":13,"minutes":25},{"year":2001,"month":5,"date":15,"hours":14,"minutes":2},{"year":2001,"month":5,"date":16,"hours":11,"minutes":19},{"year":2001,"month":5,"date":17,"hours":9,"minutes":51}], "labelExpr": "timeFormat(datum.value, '%-m/%-d/%y')"}},
            "x2": {"field": "end"},
            "y": {"field": "conc", "type": "quantitative", "scale": {"domain": [0, 350], "nice": false},
              "axis": {"values": [0,50,100,150,200,250,300,350], "title": "Conc. (µg/dscm)", "titleFontSize": 20, "titleFontWeight": "bold", "titlePadding": 22, "tickSize": 5, "labelPadding": 7, "labelFontSize": 19, "grid": true}}
          }
        }
      ]
    },
    {
      "width": 978, "height": 244,
      "title": {"text": "Antimony"},
      "resolve": {"axis": {"x": "independent"}},
      "layer": [
        {
          "data": {"name": "pts"},
          "transform": [{"filter": "datum.metal === 'Antimony'"}],
          "mark": {"type": "point", "shape": "diamond", "filled": true, "size": 170, "color": "#000080", "opacity": 1},
          "encoding": {
            "x": {"field": "time", "type": "temporal", "scale": {"domain": [{"year":2001,"month":5,"date":14,"hours":7},{"year":2001,"month":5,"date":17,"hours":17}]},
              "axis": {"title": null, "grid": false, "values": [{"year":2001,"month":5,"date":14,"hours":7},{"year":2001,"month":5,"date":14,"hours":15},{"year":2001,"month":5,"date":14,"hours":23},{"year":2001,"month":5,"date":15,"hours":7},{"year":2001,"month":5,"date":15,"hours":15},{"year":2001,"month":5,"date":15,"hours":23},{"year":2001,"month":5,"date":16,"hours":7},{"year":2001,"month":5,"date":16,"hours":15},{"year":2001,"month":5,"date":16,"hours":23},{"year":2001,"month":5,"date":17,"hours":7},{"year":2001,"month":5,"date":17,"hours":15}], "format": "%-H:%M", "formatType": "time", "tickSize": 6, "labelPadding": 12, "labelFontSize": 19, "labelFlush": false, "labelOverlap": false}},
            "y": {"field": "conc", "type": "quantitative", "scale": {"domain": [0, 800], "nice": false},
              "axis": {"values": [0,100,200,300,400,500,600,700,800], "title": "Conc. (µg/dscm)", "titleFontSize": 20, "titleFontWeight": "bold", "titlePadding": 22, "tickSize": 5, "labelPadding": 7, "labelFontSize": 19, "grid": true}}
          }
        },
        {
          "data": {"name": "avg"},
          "transform": [{"filter": "datum.metal === 'Antimony'"}],
          "mark": {"type": "rule", "color": "#FF00FF", "strokeWidth": 8, "strokeCap": "butt"},
          "encoding": {
            "x": {"field": "start", "type": "temporal", "scale": {"domain": [{"year":2001,"month":5,"date":14,"hours":7},{"year":2001,"month":5,"date":17,"hours":17}]},
              "axis": {"orient": "bottom", "title": null, "grid": false, "ticks": false, "domain": false, "tickSize": 0, "offset": 48, "labelPadding": 0, "labelFontSize": 21, "labelFlush": false, "labelOverlap": false, "values": [{"year":2001,"month":5,"date":14,"hours":13,"minutes":45},{"year":2001,"month":5,"date":15,"hours":13,"minutes":57},{"year":2001,"month":5,"date":16,"hours":10,"minutes":59},{"year":2001,"month":5,"date":17,"hours":9,"minutes":16}], "labelExpr": "timeFormat(datum.value, '%-m/%-d/%y')"}},
            "x2": {"field": "end"},
            "y": {"field": "conc", "type": "quantitative", "scale": {"domain": [0, 800], "nice": false},
              "axis": {"values": [0,100,200,300,400,500,600,700,800], "title": "Conc. (µg/dscm)", "titleFontSize": 20, "titleFontWeight": "bold", "titlePadding": 22, "tickSize": 5, "labelPadding": 7, "labelFontSize": 19, "grid": true}}
          }
        }
      ]
    },
    {
      "width": 978, "height": 244,
      "title": {"text": "Zinc"},
      "resolve": {"axis": {"x": "independent"}},
      "layer": [
        {
          "data": {"name": "pts"},
          "transform": [{"filter": "datum.metal === 'Zinc'"}],
          "mark": {"type": "point", "shape": "diamond", "filled": true, "size": 170, "color": "#000080", "opacity": 1},
          "encoding": {
            "x": {"field": "time", "type": "temporal", "scale": {"domain": [{"year":2001,"month":5,"date":14,"hours":7},{"year":2001,"month":5,"date":17,"hours":17}]},
              "axis": {"title": null, "grid": false, "values": [{"year":2001,"month":5,"date":14,"hours":7},{"year":2001,"month":5,"date":14,"hours":15},{"year":2001,"month":5,"date":14,"hours":23},{"year":2001,"month":5,"date":15,"hours":7},{"year":2001,"month":5,"date":15,"hours":15},{"year":2001,"month":5,"date":15,"hours":23},{"year":2001,"month":5,"date":16,"hours":7},{"year":2001,"month":5,"date":16,"hours":15},{"year":2001,"month":5,"date":16,"hours":23},{"year":2001,"month":5,"date":17,"hours":7},{"year":2001,"month":5,"date":17,"hours":15}], "format": "%-H:%M", "formatType": "time", "tickSize": 6, "labelPadding": 12, "labelFontSize": 19, "labelFlush": false, "labelOverlap": false}},
            "y": {"field": "conc", "type": "quantitative", "scale": {"domain": [0, 600], "nice": false},
              "axis": {"values": [0,100,200,300,400,500,600], "title": "Conc. (µg/dscm)", "titleFontSize": 20, "titleFontWeight": "bold", "titlePadding": 22, "tickSize": 5, "labelPadding": 7, "labelFontSize": 19, "grid": true}}
          }
        },
        {
          "data": {"name": "avg"},
          "transform": [{"filter": "datum.metal === 'Zinc'"}],
          "mark": {"type": "rule", "color": "#FF00FF", "strokeWidth": 8, "strokeCap": "butt"},
          "encoding": {
            "x": {"field": "start", "type": "temporal", "scale": {"domain": [{"year":2001,"month":5,"date":14,"hours":7},{"year":2001,"month":5,"date":17,"hours":17}]},
              "axis": {"orient": "bottom", "title": null, "grid": false, "ticks": false, "domain": false, "tickSize": 0, "offset": 48, "labelPadding": 0, "labelFontSize": 21, "labelFlush": false, "labelOverlap": false, "values": [{"year":2001,"month":5,"date":14,"hours":13,"minutes":30},{"year":2001,"month":5,"date":15,"hours":14,"minutes":2},{"year":2001,"month":5,"date":16,"hours":11,"minutes":29},{"year":2001,"month":5,"date":17,"hours":10,"minutes":1}], "labelExpr": "timeFormat(datum.value, '%-m/%-d/%y')"}},
            "x2": {"field": "end"},
            "y": {"field": "conc", "type": "quantitative", "scale": {"domain": [0, 600], "nice": false},
              "axis": {"values": [0,100,200,300,400,500,600], "title": "Conc. (µg/dscm)", "titleFontSize": 20, "titleFontWeight": "bold", "titlePadding": 22, "tickSize": 5, "labelPadding": 7, "labelFontSize": 19, "grid": true}}
          }
        }
      ]
    }
  ]
}
